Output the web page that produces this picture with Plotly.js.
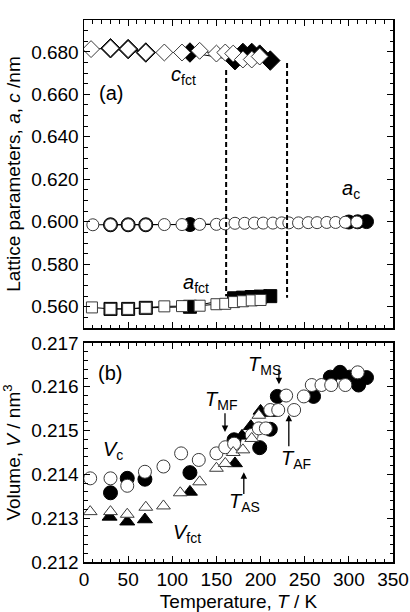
<!DOCTYPE html>
<html>
<head>
<meta charset="utf-8">
<script src="https://cdn.plot.ly/plotly-3.0.1.min.js"></script>
<style>html,body{margin:0;padding:0;background:#fff;}#chart{width:410px;height:612px;}</style>
</head>
<body>
<div id="chart"></div>
<script>
// ---------- (a) lattice parameters ----------
// c_fct
const cFilledT = [30, 50, 70, 120, 171, 180, 190, 199, 211];
const cFilledV = [0.6817, 0.6813, 0.6797, 0.6797, 0.6761, 0.6795, 0.6795, 0.6787, 0.6759];
const cOpenT   = [8, 30, 50, 70, 91, 111, 131, 150, 160, 169, 180, 190, 199];
const cOpenV   = [0.6813, 0.6817, 0.6813, 0.6797, 0.6797, 0.6797, 0.6805, 0.6792, 0.6797, 0.6792, 0.6764, 0.6764, 0.6778];
// a_c
const acFilledT = [30, 50, 70, 120, 300, 310, 320];
const acFilledV = [0.5986, 0.5986, 0.5986, 0.5987, 0.5999, 0.6000, 0.6001];
const acOpenT   = [10, 30, 50, 70, 91, 111, 131, 150, 160, 171, 182, 193, 203, 214, 224, 232, 243, 254, 264, 275, 285, 296, 309];
const acOpenV   = [0.5986, 0.5986, 0.5986, 0.5986, 0.5987, 0.5987, 0.5988, 0.5988, 0.5990, 0.5993, 0.5993, 0.5994, 0.5994, 0.5994, 0.5995, 0.5995, 0.5995, 0.5996, 0.5996, 0.5997, 0.5997, 0.5998, 0.5999];
// a_fct
const afFilledT = [30, 50, 70, 120, 170, 180, 190, 200, 211];
const afFilledV = [0.5590, 0.5590, 0.5595, 0.5600, 0.5640, 0.5643, 0.5646, 0.5648, 0.5650];
const afOpenT   = [9, 30, 50, 70, 91, 111, 131, 150, 160, 170, 180, 190, 200];
const afOpenV   = [0.5597, 0.5590, 0.5590, 0.5595, 0.5602, 0.5603, 0.5605, 0.5612, 0.5614, 0.5622, 0.5626, 0.5630, 0.5632];
// transition dashed lines
const dashT      = [161, 230];
const dashTopV   = [0.6715, 0.6747];
const dashBotV   = [0.5650, 0.5642];

// ---------- (b) volume ----------
const vcOpenT   = [7, 30, 49, 69, 90, 110, 130, 150, 160, 170, 190, 198, 206, 211, 220, 229, 238, 249, 258, 269, 280, 296, 310];
const vcOpenV   = [0.21391, 0.21391, 0.21374, 0.21406, 0.21418, 0.21448, 0.21433, 0.21448, 0.21462, 0.21470, 0.21490, 0.21505, 0.21505, 0.21547, 0.21547, 0.21580, 0.21547, 0.21578, 0.21604, 0.21604, 0.21604, 0.21604, 0.21633];
const vcFilledT = [30, 49, 69, 120, 170, 199, 211, 219, 260, 279, 290, 301, 311, 320];
const vcFilledV = [0.21358, 0.21391, 0.21389, 0.21404, 0.21479, 0.21461, 0.21503, 0.21578, 0.21578, 0.21622, 0.21633, 0.21622, 0.21604, 0.21621];
const vfOpenT   = [7, 30, 49, 70, 90, 109, 131, 150, 160, 169, 180, 190, 198];
const vfOpenV   = [0.21315, 0.21315, 0.21309, 0.21325, 0.21328, 0.21358, 0.21383, 0.21414, 0.21425, 0.21450, 0.21456, 0.21482, 0.21535];
const vfFilledT = [29, 49, 69, 120, 171, 179, 189, 200, 210];
const vfFilledV = [0.21303, 0.21292, 0.21297, 0.21360, 0.21425, 0.21488, 0.21510, 0.21545, 0.21540];

// transition arrows
const arrowLabels = ['MF', 'MS', 'AF', 'AS'];
const arrowHeadT  = [159.7, 220.8, 232, 181];
const arrowHeadV  = [0.21497, 0.21606, 0.21536, 0.21405];
const arrowTailV  = [0.21543, 0.21645, 0.21461, 0.21352];
const labelT      = [135, 184, 221, 162];
const labelV      = [0.21568, 0.21648, 0.21435, 0.21335];

const FONT = 'Liberation Sans, Arial, Helvetica, sans-serif';
const OPEN_LINE = {color: '#3a3a3a', width: 1};

function openM(sym, size) { return {symbol: sym, size: size, color: '#fff', line: OPEN_LINE}; }
function fillM(sym, size) { return {symbol: sym, size: size, color: '#000', line: {color: '#000', width: 1}}; }

const traces = [];
function addTop(T, V, marker) {
  traces.push({x: T, y: V, xaxis: 'x2', yaxis: 'y2', type: 'scatter', mode: 'lines+markers',
    line: {color: '#000', width: 1}, marker: marker, hoverinfo: 'skip', showlegend: false});
}
function addBot(T, V, marker) {
  traces.push({x: T, y: V, xaxis: 'x', yaxis: 'y', type: 'scatter', mode: 'markers',
    marker: marker, hoverinfo: 'skip', showlegend: false});
}

addTop(cFilledT, cFilledV, fillM('diamond', 15));
addTop(acFilledT, acFilledV, fillM('circle', 14));
addTop(afFilledT, afFilledV, fillM('square', 13));
addTop(cOpenT, cOpenV, openM('diamond', 13));
addTop(acOpenT, acOpenV, openM('circle', 12));
addTop(afOpenT, afOpenV, openM('square', 11));

for (let i = 0; i < dashT.length; i++) {
  traces.push({x: [dashT[i], dashT[i]], y: [dashTopV[i], dashBotV[i]], xaxis: 'x2', yaxis: 'y2',
    type: 'scatter', mode: 'lines', line: {color: '#000', width: 2, dash: '5px,3px'},
    hoverinfo: 'skip', showlegend: false});
}

addBot(vcFilledT, vcFilledV, fillM('circle', 14));
addBot(vfFilledT, vfFilledV, fillM('triangle-up', 13));
addBot(vcOpenT, vcOpenV, openM('circle', 13));
addBot(vfOpenT, vfOpenV, openM('triangle-up', 12));

const AF = {size: 20, family: FONT, color: '#000'};
const annotations = [
  {xref: 'x2', yref: 'y2', x: 15, y: 0.6607, text: '(a)', xanchor: 'left', yanchor: 'middle', showarrow: false, font: AF},
  {xref: 'x2', yref: 'y2', x: 96, y: 0.6690, text: '<i>c</i><sub>fct</sub>', xanchor: 'left', yanchor: 'middle', showarrow: false, font: AF},
  {xref: 'x2', yref: 'y2', x: 290, y: 0.6150, text: '<i>a</i><sub>c</sub>', xanchor: 'left', yanchor: 'middle', showarrow: false, font: AF},
  {xref: 'x2', yref: 'y2', x: 110, y: 0.5710, text: '<i>a</i><sub>fct</sub>', xanchor: 'left', yanchor: 'middle', showarrow: false, font: AF},
  {xref: 'x', yref: 'y', x: 14, y: 0.21632, text: '(b)', xanchor: 'left', yanchor: 'middle', showarrow: false, font: AF},
  {xref: 'x', yref: 'y', x: 19, y: 0.21455, text: '<i>V</i><sub>c</sub>', xanchor: 'left', yanchor: 'middle', showarrow: false, font: AF},
  {xref: 'x', yref: 'y', x: 99, y: 0.21265, text: '<i>V</i><sub>fct</sub>', xanchor: 'left', yanchor: 'middle', showarrow: false, font: AF}
];
for (let i = 0; i < arrowLabels.length; i++) {
  annotations.push({xref: 'x', yref: 'y', x: labelT[i], y: labelV[i],
    text: '<i>T</i><sub>' + arrowLabels[i] + '</sub>', xanchor: 'left', yanchor: 'middle',
    showarrow: false, font: AF});
  annotations.push({xref: 'x', yref: 'y', x: arrowHeadT[i], y: arrowHeadV[i],
    axref: 'x', ayref: 'y', ax: arrowHeadT[i], ay: arrowTailV[i], text: '',
    showarrow: true, arrowhead: 2, arrowsize: 1, arrowwidth: 1.3, arrowcolor: '#000', standoff: 0, startstandoff: 0});
}

const axBase = {
  showline: true, linecolor: '#000', linewidth: 1.5, mirror: 'allticks',
  ticks: 'inside', ticklen: 6, tickwidth: 1.2, tickcolor: '#000',
  showgrid: false, zeroline: false, tickfont: {size: 19, color: '#000', family: FONT}
};

const layout = {
  width: 410, height: 612,
  margin: {l: 84, r: 17, t: 20, b: 50},
  paper_bgcolor: '#fff', plot_bgcolor: '#fff',
  font: {family: FONT, color: '#000', size: 19},
  showlegend: false,
  xaxis: Object.assign({}, axBase, {
    domain: [0, 1], anchor: 'y', range: [0, 350], dtick: 50, tick0: 0,
    minor: {dtick: 10, ticks: 'inside', ticklen: 3.5, tickwidth: 1, tickcolor: '#000'},
    title: {text: 'Temperature, <i>T</i> / K', font: {size: 19}, standoff: 6}
  }),
  yaxis: Object.assign({}, axBase, {
    domain: [0, 0.4041], anchor: 'x', range: [0.212, 0.217], dtick: 0.001, tick0: 0.212,
    tickformat: '.3f',
    minor: {dtick: 0.0002, ticks: 'inside', ticklen: 3.5, tickwidth: 1, tickcolor: '#000'},
    title: {text: 'Volume, <i>V</i> / nm<sup>3</sup>', font: {size: 19}, standoff: 5}
  }),
  xaxis2: Object.assign({}, axBase, {
    domain: [0, 1], anchor: 'y2', range: [0, 350], dtick: 50, tick0: 0, showticklabels: false,
    minor: {dtick: 10, ticks: 'inside', ticklen: 3.5, tickwidth: 1, tickcolor: '#000'}
  }),
  yaxis2: Object.assign({}, axBase, {
    domain: [0.4317, 1], anchor: 'x2', range: [0.550, 0.695], dtick: 0.02, tick0: 0.56,
    tickformat: '.3f',
    minor: {dtick: 0.005, ticks: 'inside', ticklen: 3.5, tickwidth: 1, tickcolor: '#000'},
    title: {text: 'Lattice parameters, <i>a</i>, <i>c</i> /nm', font: {size: 19}, standoff: 5}
  }),
  annotations: annotations
};

Plotly.newPlot('chart', traces, layout, {displayModeBar: false, staticPlot: true});
</script>
</body>
</html>
